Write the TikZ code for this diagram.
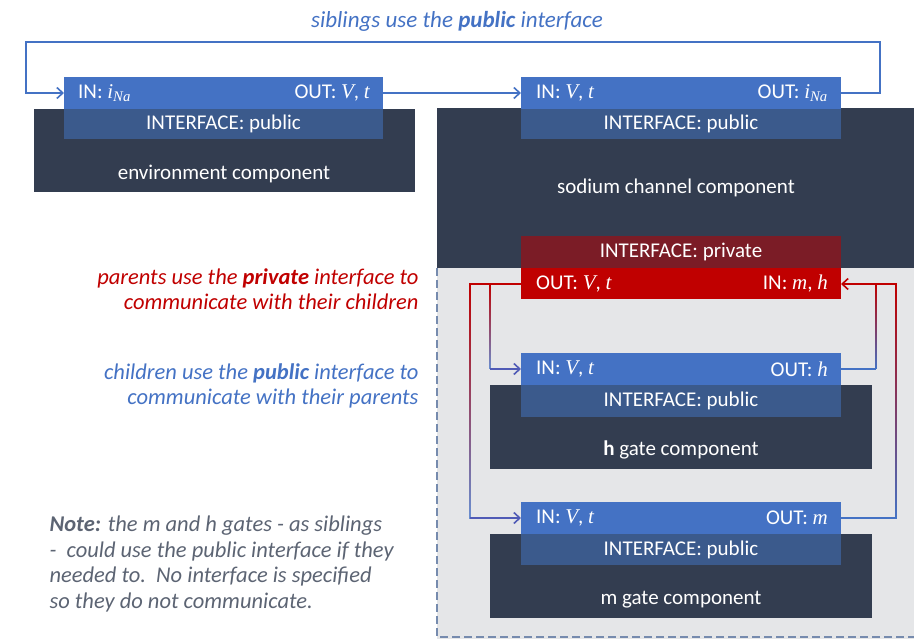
\documentclass[tikz,border=0pt]{standalone}
\usepackage{fontspec}
\setmainfont{Carlito}
\newfontfamily\myvarfont{Liberation Serif}
\usetikzlibrary{arrows.meta}
\definecolor{pubA}{HTML}{4472C4}
\definecolor{pubB}{HTML}{3B5A8C}
\definecolor{darkc}{HTML}{333D50}
\definecolor{privA}{HTML}{7B1C26}
\definecolor{privB}{HTML}{C00000}
\definecolor{grayr}{HTML}{E5E6E8}
\definecolor{txtred}{HTML}{C00000}
\definecolor{txtblue}{HTML}{4472C4}
\newcommand{\vv}[1]{{\myvarfont\itshape #1}}
\tikzset{
 lab/.style={text=white,font=\fontsize{21}{24}\selectfont,inner sep=0pt},
 conn/.style={line width=1.6pt},
 arr/.style={conn,-{Straight Barb[length=6pt,width=11pt,line width=1.6pt]}},
}
\begin{document}
\begin{tikzpicture}[x=1pt,y=-1pt]
\useasboundingbox (0,0) rectangle (914,639);
% gray region
\fill[grayr] (437,268) rectangle (914,639);
\draw[pubB!70,line width=1.2pt,dash pattern=on 8pt off 4pt] (437,268) -- (437,637) -- (914,637);
% environment
\fill[darkc] (34,109) rectangle (415,192);
\fill[pubA] (64,77) rectangle (383,109);
\fill[pubB] (64,109) rectangle (383,139);
\node[lab] (envi) at (223.5,124) {INTERFACE: public};
\node[lab] (envl) at (224,174) {environment component};
\node[lab,anchor=west] (envin) at (78,93) {IN: \vv{i}\textsubscript{\vv{Na}}};
\node[lab,anchor=east] (envout) at (370,93) {OUT: \vv{V}, \vv{t}};
\coordinate (envL) at (64,93); \coordinate (envR) at (383,93);
% sodium
\fill[darkc] (437,108) rectangle (914,268);
\fill[pubA] (521,77) rectangle (841,109);
\fill[pubB] (521,109) rectangle (841,139);
\node[lab] (nai) at (681,124) {INTERFACE: public};
\node[lab] (nal) at (676,188) {sodium channel component};
\node[lab,anchor=west] (nain) at (536,93) {IN: \vv{V}, \vv{t}};
\node[lab,anchor=east] (naout) at (828,93) {OUT: \vv{i}\textsubscript{\vv{Na}}};
\coordinate (naL) at (521,93); \coordinate (naR) at (841,93);
% private
\fill[privA] (521,236) rectangle (841,268);
\fill[privB] (521,268) rectangle (841,299);
\node[lab] (pri) at (681,252) {INTERFACE: private};
\node[lab,anchor=west] (prout) at (536,284) {OUT: \vv{V}, \vv{t}};
\node[lab,anchor=east] (prin) at (828,284) {IN: \vv{m}, \vv{h}};
\coordinate (prL) at (521,284); \coordinate (prR) at (841,284);
% h gate
\fill[darkc] (490,385) rectangle (872,469);
\fill[pubA] (521,353) rectangle (841,385);
\fill[pubB] (521,385) rectangle (841,417);
\node[lab] (hi) at (681,401) {INTERFACE: public};
\node[lab] (hl) at (681,450) {\textbf{h} gate component};
\node[lab,anchor=west] (hin) at (536,369) {IN: \vv{V}, \vv{t}};
\node[lab,anchor=east] (hout) at (828,369) {OUT: \vv{h}};
\coordinate (hL) at (521,369); \coordinate (hR) at (841,369);
% m gate
\fill[darkc] (490,534) rectangle (872,618);
\fill[pubA] (521,502) rectangle (841,534);
\fill[pubB] (521,534) rectangle (841,565);
\node[lab] (mi) at (681,550) {INTERFACE: public};
\node[lab] (ml) at (681,600) {m gate component};
\node[lab,anchor=west] (min) at (536,518) {IN: \vv{V}, \vv{t}};
\node[lab,anchor=east] (mout) at (828,518) {OUT: \vv{m}};
\coordinate (mL) at (521,518); \coordinate (mR) at (841,518);
% top connectors
\draw[arr,txtblue] (naR) -- (880,93) -- (880,42) -- (26,42) -- (26,93) -- (envL);
\draw[arr,txtblue] (envR) -- (naL);
% private out connectors
\shade[top color=privB,bottom color=txtblue!80!white] (469.2,284) rectangle (470.8,518);
\shade[top color=privB,bottom color=txtblue!80!white] (489.2,284) rectangle (490.8,369);
\draw[conn,privB] (prL) -- (470,284);
\draw[arr,txtblue!80!violet] (470,518) -- (mL);
\draw[arr,txtblue!80!violet] (490,369) -- (hL);
% in connectors
\shade[top color=privB,bottom color=txtblue] (875.2,284) rectangle (876.8,369);
\shade[top color=privB,bottom color=txtblue] (895.2,284) rectangle (896.8,518);
\draw[conn,txtblue] (hR) -- (876,369);
\draw[conn,txtblue] (mR) -- (896,518);
\draw[arr,privB] (896,284) -- (prR);
% texts
\node[text=txtblue,font=\fontsize{23}{26}\selectfont\itshape] (title) at (457,21) {siblings use the \textbf{public} interface};
\node[text=txtred,font=\fontsize{22.5}{25}\selectfont\itshape,align=right,anchor=east] (ptxt) at (422,289) {parents use the \textbf{private} interface to\\communicate with their children};
\node[text=txtblue,font=\fontsize{22.5}{25}\selectfont\itshape,align=right,anchor=east] (ctxt) at (422,386) {children use the \textbf{public} interface to\\communicate with their parents};
\node[text=darkc!80,font=\fontsize{22.5}{25.5}\selectfont\itshape,align=left,anchor=west] (note) at (46,564) {\textbf{Note:} the m and h gates - as siblings\\-\ \ could use the public interface if they\\needed to.\ \ No interface is specified\\so they do not communicate.};
\end{tikzpicture}
\end{document}
